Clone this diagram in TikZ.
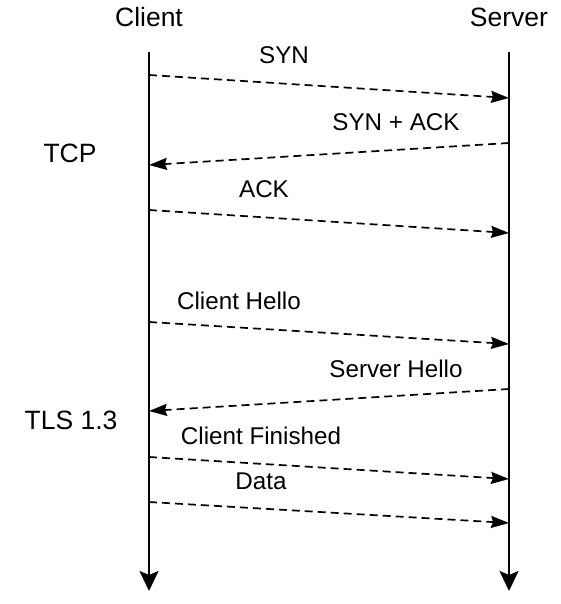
\documentclass[tikz,border=0pt]{standalone}
\usepackage{fontspec}
\setmainfont{Liberation Sans}
\usetikzlibrary{arrows.meta}
\begin{document}
\begin{tikzpicture}[x=1pt,y=-1pt,
  head/.style={font=\fontsize{26.5}{30}\selectfont, inner sep=0pt},
  lbl/.style={font=\fontsize{24.2}{28}\selectfont, inner sep=0pt},
  phase/.style={font=\fontsize{26.5}{30}\selectfont, inner sep=0pt},
  life/.style={line width=2pt, -{Stealth[length=20pt,width=19pt,inset=4pt]}},
  msg/.style={line width=1.7pt, dash pattern=on 8pt off 5pt, -{Stealth[length=18pt,width=12pt,inset=2pt]}}]
\useasboundingbox (0,0) rectangle (561,604);
% lifelines
\node[head] (client) at (149,17) {Client};
\node[head] (server) at (509,17) {Server};
\coordinate (ct) at (149,52);
\coordinate (cb) at (149,591);
\coordinate (st) at (509,52);
\coordinate (sb) at (509,591);
\draw[life] (ct) -- (cb);
\draw[life] (st) -- (sb);
% phase labels
\node[phase] (tcp) at (70,153) {TCP};
\node[phase] (tls) at (71,420) {TLS 1.3};
% messages
\coordinate (c1) at (149,75);  \coordinate (s1) at (509,98);
\coordinate (s2) at (509,143); \coordinate (c2) at (149,165);
\coordinate (c3) at (149,210); \coordinate (s3) at (509,233);
\coordinate (c4) at (149,322); \coordinate (s4) at (509,344);
\coordinate (s5) at (509,389); \coordinate (c5) at (149,411);
\coordinate (c6) at (149,457); \coordinate (s6) at (509,479);
\coordinate (c7) at (149,502); \coordinate (s7) at (509,523);
\draw[msg] (c1) -- (s1);
\draw[msg] (s2) -- (c2);
\draw[msg] (c3) -- (s3);
\draw[msg] (c4) -- (s4);
\draw[msg] (s5) -- (c5);
\draw[msg] (c6) -- (s6);
\draw[msg] (c7) -- (s7);
\node[lbl] (l1) at (284,55) {SYN};
\node[lbl] (l2) at (396,122) {SYN + ACK};
\node[lbl] (l3) at (264,189) {ACK};
\node[lbl] (l4) at (239,301) {Client Hello};
\node[lbl] (l5) at (396,369) {Server Hello};
\node[lbl] (l6) at (261,436) {Client Finished};
\node[lbl] (l7) at (261,481) {Data};
\end{tikzpicture}
\end{document}
